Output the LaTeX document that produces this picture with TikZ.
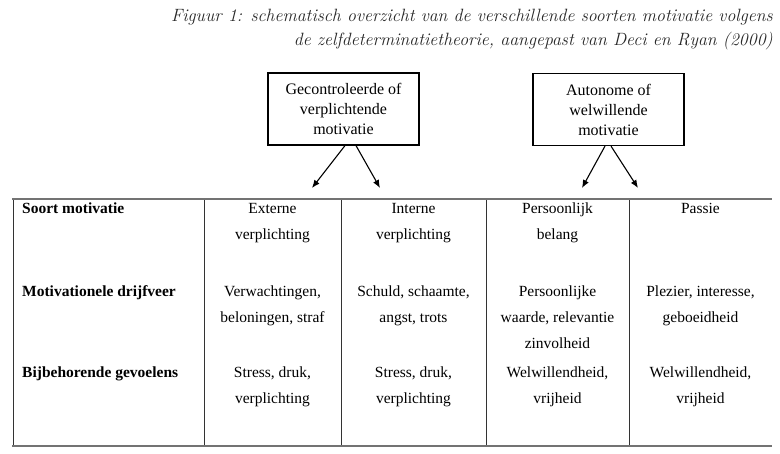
\documentclass[tikz,border=0pt]{standalone}
\usepackage{fontspec}
\newfontfamily\tabfont{Liberation Serif}
\usetikzlibrary{arrows.meta}
\usetikzlibrary{positioning}

\begin{document}
\begin{tikzpicture}[x=1pt,y=-1pt,
    box/.style={draw, line width=1.2pt, minimum width=151pt, minimum height=72pt,
      align=center, font=\tabfont\fontsize{16}{20}\selectfont},
    pijl/.style={-{Latex[length=8pt,width=6.5pt]}, line width=1.1pt},
    cel/.style={anchor=base, align=center, inner sep=0pt,
      font=\tabfont\fontsize{15.5}{26}\selectfont},
    kop/.style={anchor=base west, inner sep=0pt,
      font=\tabfont\bfseries\fontsize{15.5}{26}\selectfont},
    rand/.style={draw=black!55, line width=2pt},
    lijn/.style={draw=black!80, line width=1pt}]
  \useasboundingbox (0,0) rectangle (780,454);

  % bijschrift (anker op de laatste regel)
  \node[anchor=base east, align=right, inner sep=0pt, text=black!85,
    font=\itshape\fontsize{17.8}{23.5}\selectfont] (titel) at (773,45.5)
    {Figuur 1: schematisch overzicht van de verschillende soorten motivatie volgens\\
     de zelfdeterminatietheorie, aangepast van Deci en Ryan (2000)};

  % kaders met pijlen
  \node[box] (gec) at (343.5,109) {Gecontroleerde of\\ verplichtende\\ motivatie};
  \node[box] (aut) at (608.5,109.5) {Autonome of\\ welwillende\\ motivatie};
  \coordinate (extern) at (312,188);
  \coordinate (intern) at (380,188);
  \coordinate (belang) at (582,188);
  \coordinate (passie) at (638,188);
  \draw[pijl] ([xshift=1.5pt]gec.south) -- (extern);
  \draw[pijl] ([xshift=12.5pt]gec.south) -- (intern);
  \draw[pijl] ([xshift=-3.5pt]aut.south) -- (belang);
  \draw[pijl] ([xshift=2.5pt]aut.south) -- (passie);

  % tabel
  \draw[lijn] (13,199) -- (13,446);
  \foreach \x in {204,341,486,629}
    \draw[lijn] (\x,199) -- (\x,446);
  \draw[rand] (12,199) -- (772,199);
  \draw[rand] (12,446) -- (772,446);

  \node[kop] (soort) at (22,214) {Soort motivatie};
  \node[kop] (drijf) at (22,297) {Motivationele drijfveer};
  \node[kop] (gevoel) at (22,378) {Bijbehorende gevoelens};

  % cellen: anker op de basislijn van de laatste regel
  \node[cel] (ext1) at (272.5,240) {Externe\\ verplichting};
  \node[cel] (int1) at (413.5,240) {Interne\\ verplichting};
  \node[cel] (per1) at (557.5,240) {Persoonlijk\\ belang};
  \node[cel] (pas1) at (700.5,214) {Passie};

  \node[cel] (ext2) at (272.5,323) {Verwachtingen,\\ beloningen, straf};
  \node[cel] (int2) at (413.5,323) {Schuld, schaamte,\\ angst, trots};
  \node[cel] (per2) at (557.5,349) {Persoonlijke\\ waarde, relevantie\\ zinvolheid};
  \node[cel] (pas2) at (700.5,323) {Plezier, interesse,\\ geboeidheid};

  \node[cel] (ext3) at (272.5,404) {Stress, druk,\\ verplichting};
  \node[cel] (int3) at (413.5,404) {Stress, druk,\\ verplichting};
  \node[cel] (per3) at (557.5,404) {Welwillendheid,\\ vrijheid};
  \node[cel] (pas3) at (700.5,404) {Welwillendheid,\\ vrijheid};
\end{tikzpicture}
\end{document}
